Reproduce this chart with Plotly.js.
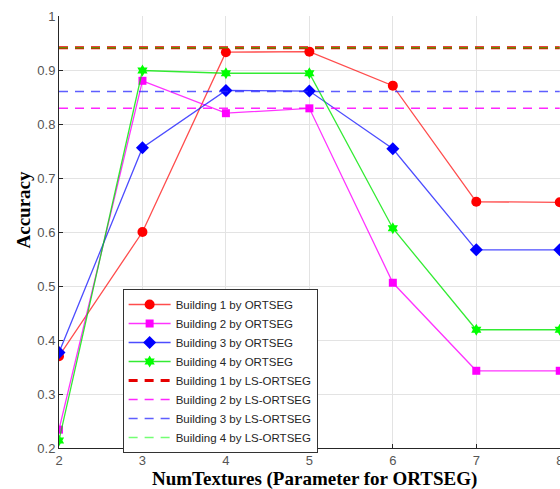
<!DOCTYPE html>
<html>
<head>
<meta charset="utf-8">
<script src="https://cdn.plot.ly/plotly-3.0.1.min.js"></script>
<style>html,body{margin:0;padding:0;background:#fff;}#chart{width:560px;height:489px;}</style>
</head>
<body>
<div id="chart"></div>
<script>
const numTextures = [2, 3, 4, 5, 6, 7, 8];
const building1 = [0.370, 0.600, 0.933, 0.934, 0.871, 0.656, 0.655];
const building2 = [0.234, 0.880, 0.820, 0.829, 0.506, 0.343, 0.343];
const building3 = [0.377, 0.756, 0.862, 0.861, 0.754, 0.567, 0.567];
const building4 = [0.214, 0.899, 0.894, 0.894, 0.607, 0.419, 0.419];
const lsBuilding1 = 0.941;
const lsBuilding2 = 0.829;
const lsBuilding3 = 0.860;
const lsBuilding4 = 0.941;
const seriesNames = ["Building 1 by ORTSEG", "Building 2 by ORTSEG", "Building 3 by ORTSEG", "Building 4 by ORTSEG",
  "Building 1 by LS-ORTSEG", "Building 2 by LS-ORTSEG", "Building 3 by LS-ORTSEG", "Building 4 by LS-ORTSEG"];
const yTicks = [0.2, 0.3, 0.4, 0.5, 0.6, 0.7, 0.8, 0.9, 1];
const yTickText = ["0.2", "0.3", "0.4", "0.5", "0.6", "0.7", "0.8", "0.9", "1"];

const colors = ["#ff0000", "#ff00ff", "#0000ff", "#00ff00"];
const lineColors = ["rgba(255,0,0,0.7)", "rgba(255,0,255,0.8)", "rgba(0,0,255,0.7)", "rgba(0,230,0,0.8)"];
const markers = [
  {symbol: "circle", size: 10},
  {symbol: "square", size: 8},
  {symbol: "diamond", size: 10},
  {symbol: "hexagram", size: 9}
];
const ortseg = [building1, building2, building3, building4];
const ls = [lsBuilding1, lsBuilding2, lsBuilding3, lsBuilding4];
const traces = [];
ortseg.forEach((ys, i) => {
  traces.push({
    x: numTextures, y: ys, type: "scatter", mode: "lines+markers", name: seriesNames[i],
    line: {color: lineColors[i], width: 1.3},
    marker: {color: colors[i], symbol: markers[i].symbol, size: markers[i].size, line: {width: 0}}
  });
});
const lsWidths = [3, 1.5, 1.5, 1.5];
const lsColors = ["rgba(230,0,0,1)", "rgba(255,0,255,0.85)", "rgba(40,40,255,0.75)", "rgba(0,255,0,0.55)"];
ls.forEach((v, i) => {
  traces.push({
    x: numTextures, y: numTextures.map(() => v), type: "scatter", mode: "lines", name: seriesNames[4 + i],
    line: {color: lsColors[i], width: lsWidths[i], dash: "9px,7px"}
  });
});

const layout = {
  width: 560, height: 489,
  margin: {l: 59, r: 0, t: 16, b: 41},
  paper_bgcolor: "#fff", plot_bgcolor: "#fff",
  showlegend: true,
  font: {family: "Liberation Sans, Arial, sans-serif", size: 13, color: "#555"},
  xaxis: {
    range: [2, 8.003], tickvals: numTextures, ticktext: numTextures.map(String),
    showgrid: true, gridcolor: "#e3e3e3", gridwidth: 1,
    zeroline: false, showline: true, linecolor: "#262626", linewidth: 1,
    ticks: "inside", ticklen: 4, tickcolor: "#262626",
    ticklabelstandoff: 0, ticklabeloverflow: "allow",
    tickfont: {size: 13, color: "#555"}
  },
  yaxis: {
    range: [0.2, 1], tickvals: yTicks, ticktext: yTickText,
    showgrid: true, gridcolor: "#e3e3e3", gridwidth: 1,
    zeroline: false, showline: true, linecolor: "#262626", linewidth: 1,
    ticks: "inside", ticklen: 4, tickcolor: "#262626",
    tickfont: {size: 13, color: "#555"}
  },
  legend: {
    x: 0.127, y: 0.368, xanchor: "left", yanchor: "top",
    bgcolor: "#fff", bordercolor: "#333", borderwidth: 1,
    font: {family: "Liberation Sans, Arial, sans-serif", size: 11.5, color: "#262626"},
    tracegroupgap: 0, itemwidth: 42
  },
  annotations: [
    {text: "<b>NumTextures (Parameter for ORTSEG)</b>", xref: "paper", yref: "paper", x: 0.51, y: -0.0715,
     xanchor: "center", yanchor: "middle", showarrow: false,
     font: {family: "Liberation Serif, Times New Roman, serif", size: 19, color: "#000"}},
    {text: "<b>Accuracy</b>", xref: "paper", yref: "paper", x: -0.07, y: 0.552, textangle: -90,
     xanchor: "center", yanchor: "middle", showarrow: false,
     font: {family: "Liberation Serif, Times New Roman, serif", size: 19, color: "#000"}}
  ]
};
Plotly.newPlot("chart", traces, layout, {displayModeBar: false, staticPlot: true});
</script>
</body>
</html>
